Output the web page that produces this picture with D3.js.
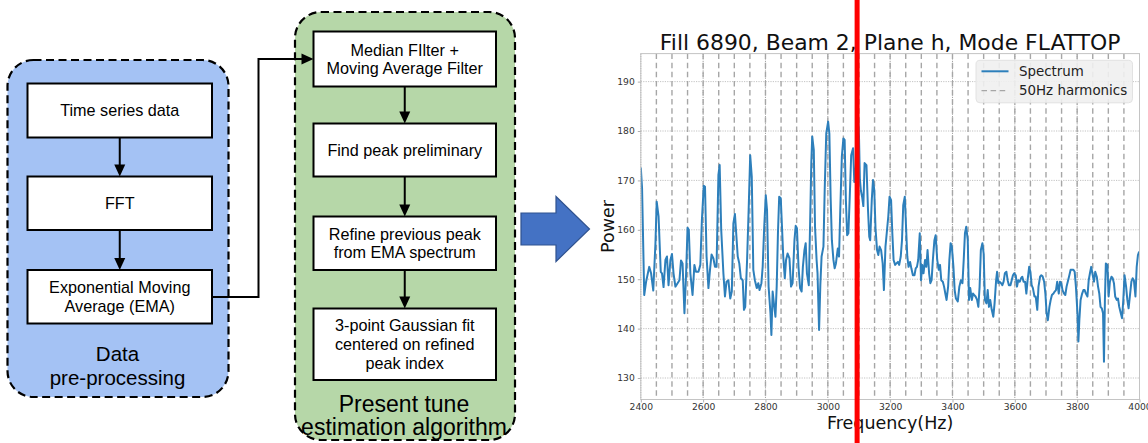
<!DOCTYPE html>
<html>
<head>
<meta charset="utf-8">
<script src="https://cdn.jsdelivr.net/npm/d3@7"></script>
<style>
  body { margin: 0; background: #fff; }
  svg { display: block; }
</style>
</head>
<body>
<svg id="fig" width="1148" height="443"></svg>
<script>
// ---------------- Flowchart content ----------------
const preSteps = [
  ["Time series data"],
  ["FFT"],
  ["Exponential Moving", "Average (EMA)"]
];
const preTitle = ["Data", "pre-processing"];

const tuneSteps = [
  ["Median FIlter +", "Moving Average Filter"],
  ["Find peak preliminary"],
  ["Refine previous peak", "from EMA spectrum"],
  ["3-point Gaussian fit", "centered on refined", "peak index"]
];
const tuneTitle = ["Present tune", "estimation algorithm"];

// ---------------- Spectrum data (Hz, power) ----------------
const freqHz = [
  2400,2404,2411,2417,2427,2433,2440,2447,2451,2457,2464,2468,2473,2479,2484,2489,2495,2500,2505,2511,
  2518,2524,2529,2534,2540,2545,2550,2554,2559,2566,2572,2577,2585,2591,2596,2602,2606,2611,2617,2622,
  2627,2633,2638,2643,2649,2653,2658,2665,2670,2675,2681,2687,2692,2697,2702,
  2711,2716,2721,2727,2731,2735,2741,2746,2751,2756,2761,2766,2772,2777,2781,2787,2791,2796,2801,2805,
  2810,2816,2819,2823,2827,2832,2836,2840,2844,2849,2853,2857,2862,2866,2871,2877,2882,2887,2893,2897,
  2901,2906,2911,2916,2920,2925,2929,2933,2939,2943,2947,2950,2955,2959,2964,2967,2972,2976,2980,2986,
  2990,2995,3001,3005,3009,3013,3018,3022,3026,
  3032,3036,3040,3045,3050,3054,3058,3062,3066,3070,3075,3081,3085,3090,3096,3100,3103,3106,3110,3114,
  3118,3124,3129,3133,3136,3141,3145,3149,3153,3158,3162,3166,3171,3176,3180,3185,3189,3194,3198,3203,
  3207,3211,3216,3220,3225,3229,3234,3238,3242,3247,3251,3255,3259,3264,3268,3273,3278,3282,3286,3290,
  3295,3299,3303,3307,3312,3316,3320,3325,3329,3333,3337,3342,3346,
  3351,3356,3360,3364,3369,3373,3377,3381,3386,3390,3394,3398,3403,3407,3411,3417,3422,3427,3432,3436,
  3440,3444,3449,3453,3457,3462,3466,3470,3474,3479,3483,3487,3491,3496,3500,3504,3509,3513,3517,3521,
  3526,3531,3535,3540,3543,3547,3551,3556,3560,3564,3568,3573,3577,3581,3586,3590,3594,3598,3603,3607,
  3611,3616,3620,3624,3628,3633,3637,3641,3646,3650,3654,3658,3663,3667,
  3672,3676,3681,3685,3689,3694,3698,3702,3706,3711,3715,3719,3724,3728,3732,3736,3741,3745,3749,3753,
  3758,3762,3766,3771,3775,3779,3783,3788,3792,3796,3801,3804,3807,3811,3816,3820,3824,3828,3833,3837,
  3841,3845,3850,3854,3858,3863,3867,3871,3875,3879,3883,3886,3889,3892,3897,3901,3905,3910,3914,3918,
  3922,3927,3931,3935,3940,3944,3948,3952,3957,3961,3965,3970,3974,3978,3982,3987,3991,3995,3999
];
const powerDb = [
  172.6,168.5,146.8,149.5,152.5,151.2,147.7,157.3,165.7,162.7,151.5,151.2,148.4,153.9,154.6,148.8,153.9,155.1,151.2,148.5,
  149.2,149.8,153.8,153.2,143.1,150.5,160.4,160.0,151.2,146.8,152.9,151.5,151.5,152.9,162.0,168.9,168.7,154.6,148.2,151.9,
  155.0,154.2,152.5,152.5,171.1,173.1,160.0,151.2,146.5,149.5,149.8,146.1,147.5,161.3,163.2,
  154.6,153.2,150.2,149.8,143.8,144.4,153.9,164.0,175.1,170.8,151.9,149.8,148.2,149.2,147.8,149.2,152.5,160.6,167.0,164.0,
  148.5,143.1,138.7,147.5,145.1,142.4,148.5,159.3,166.7,166.4,160.6,154.6,150.2,153.9,155.2,154.2,148.5,149.2,157.9,160.8,
  160.3,152.5,148.2,147.5,152.5,155.9,157.3,151.2,148.8,160.6,173.5,178.9,176.2,160.6,153.9,151.2,139.7,148.8,154.6,156.6,
  168.1,179.5,181.9,179.5,166.7,157.9,153.9,152.2,153.2,
  156.2,154.6,164.0,174.8,178.5,178.2,166.0,158.9,159.3,166.0,175.1,176.5,169.7,172.5,184.6,179.0,170.1,168.0,166.7,164.8,
  173.5,173.1,164.0,158.6,157.9,166.0,170.1,168.1,160.3,155.9,154.9,156.6,155.9,153.2,147.8,156.6,159.3,162.7,166.7,166.0,
  159.3,153.9,152.9,153.2,153.5,152.9,154.6,157.9,165.0,166.7,160.6,154.6,152.5,153.5,152.2,150.8,150.8,152.2,152.5,153.9,
  159.3,149.8,152.9,151.2,153.9,152.5,155.9,151.2,149.2,149.8,153.9,157.9,158.9,
  153.9,151.9,152.9,149.8,149.5,148.5,147.1,145.8,148.5,153.9,157.3,156.6,152.5,147.8,146.1,145.5,148.5,149.8,149.2,153.9,
  159.3,160.6,157.9,145.8,148.2,145.8,147.1,146.8,146.5,145.8,144.4,148.5,155.9,157.3,155.2,145.8,145.1,147.8,144.4,145.8,
  143.8,142.4,145.1,149.8,151.5,149.2,149.5,149.2,148.8,149.5,151.2,151.5,149.8,148.8,148.8,149.8,150.8,151.2,150.8,148.5,
  149.8,149.5,150.2,150.5,149.5,149.5,147.1,149.8,152.5,151.5,148.8,148.2,146.5,146.5,
  143.8,148.5,150.5,150.8,150.6,149.5,147.1,143.1,141.7,144.4,145.8,146.8,147.1,147.5,147.8,149.5,147.1,149.5,149.2,147.8,
  147.1,146.8,148.5,149.8,150.8,151.9,151.9,151.9,151.5,148.5,143.1,137.4,141.7,145.8,147.1,147.8,147.8,147.1,146.5,149.8,
  151.2,152.5,150.8,149.5,151.5,150.5,148.5,147.1,144.4,144.1,143.1,133.3,145.8,153.2,152.9,146.5,149.5,150.5,150.2,149.2,
  146.5,145.8,146.1,144.4,143.1,142.1,145.8,150.8,148.5,145.8,144.1,147.1,149.5,150.2,149.8,146.5,152.5,154.9,155.6
];

// 50 Hz mains harmonics inside the band
const harmonicsHz = [
  2450,2500,2550,2600,2650,2700,2750,2800,2850,2900,2950,3000,3050,3100,3150,3200,
  3250,3300,3350,3400,3450,3500,3550,3600,3650,3700,3750,3800,3850,3900,3950
];
const xTicks = [2400,2600,2800,3000,3200,3400,3600,3800,4000];
const yTicks = [130,140,150,160,170,180,190];
const tuneHz = 3094;   // estimated tune line
const chartTitle = "Fill 6890, Beam 2, Plane h, Mode FLATTOP";
const legendLabels = ["Spectrum", "50Hz harmonics"];

const svg = d3.select("#fig");

// ---------------- Flowchart ----------------
const FLOW_FONT = "'Liberation Sans', Arial, Helvetica, sans-serif";
const fc = svg.append("g").attr("font-family", FLOW_FONT);

function panel(x, y, w, h, fill) {
  fc.append("rect")
    .attr("x", x).attr("y", y).attr("width", w).attr("height", h)
    .attr("rx", 26).attr("ry", 26)
    .attr("fill", fill)
    .attr("stroke", "#000").attr("stroke-width", 2.2)
    .attr("stroke-dasharray", "8,4.5");
}

function stepBox(x, y, w, h, lines, size) {
  fc.append("rect")
    .attr("x", x).attr("y", y).attr("width", w).attr("height", h)
    .attr("fill", "#fff").attr("stroke", "#000").attr("stroke-width", 2);
  const lh = size * 1.15;
  const cy = y + h / 2;
  fc.append("text")
    .attr("text-anchor", "middle")
    .attr("font-size", size)
    .attr("fill", "#000")
    .selectAll("tspan").data(lines).join("tspan")
    .attr("x", x + w / 2)
    .attr("y", (d, i) => cy + (i - (lines.length - 1) / 2) * lh + size * 0.36)
    .text(d => d);
}

function arrowDown(x, y0, y1) {
  const head = 12;
  fc.append("line").attr("x1", x).attr("x2", x).attr("y1", y0).attr("y2", y1 - head + 1)
    .attr("stroke", "#000").attr("stroke-width", 2);
  fc.append("path")
    .attr("d", `M${x - 5.5},${y1 - head} L${x + 5.5},${y1 - head} L${x},${y1} Z`)
    .attr("fill", "#000");
}

function panelTitle(cx, cy0, lines, size, gap) {
  fc.append("text")
    .attr("text-anchor", "middle").attr("font-size", size).attr("fill", "#000")
    .selectAll("tspan").data(lines).join("tspan")
    .attr("x", cx)
    .attr("y", (d, i) => cy0 + i * gap + size * 0.36)
    .text(d => d);
}

// left panel: pre-processing
panel(7.5, 60, 221, 337, "#a4c2f4");
const preBoxes = [[83.5, 137.5], [176.5, 230], [270, 323.5]];
const preX = 27.5, preW = 184.5;
preSteps.forEach((lines, i) => {
  const [t, b] = preBoxes[i];
  stepBox(preX, t, preW, b - t, lines, 16.2);
  if (i > 0) arrowDown(preX + preW / 2, preBoxes[i - 1][1], t);
});
panelTitle(117.5, 353.5, preTitle, 20.5, 24.5);

// right panel: tune estimation
panel(295, 12, 220, 428, "#b6d7a8");
const tuneBoxes = [[31.5, 86.5], [123.5, 176.5], [216.5, 270], [308.5, 380]];
const tuneX = 313.5, tuneW = 182.5;
tuneSteps.forEach((lines, i) => {
  const [t, b] = tuneBoxes[i];
  stepBox(tuneX, t, tuneW, b - t, lines, 16.2);
  if (i > 0) arrowDown(tuneX + tuneW / 2, tuneBoxes[i - 1][1], t);
});
panelTitle(404, 403.5, tuneTitle, 23, 23);

// connector EMA -> median filter
{
  const yA = 297, xMid = 258.5, yB = 59, xEnd = tuneX;
  fc.append("path")
    .attr("d", `M${preX + preW},${yA} H${xMid} V${yB} H${xEnd - 11}`)
    .attr("fill", "none").attr("stroke", "#000").attr("stroke-width", 2);
  fc.append("path")
    .attr("d", `M${xEnd - 12},${yB - 5.5} L${xEnd - 12},${yB + 5.5} L${xEnd},${yB} Z`)
    .attr("fill", "#000");
}

// big block arrow
svg.append("path")
  .attr("d", "M521,213 H556 V196.5 L589.5,229 L556,261.5 V245 H521 Z")
  .attr("fill", "#4472c4").attr("stroke", "#2f528f").attr("stroke-width", 1.2);

// ---------------- Spectrum chart ----------------
const CHART_FONT = "'DejaVu Sans', Verdana, sans-serif";
const plot = { left: 640.8, right: 1139.5, top: 53.6, bottom: 399.5 };
const x = d3.scaleLinear().domain([2400, 4000]).range([plot.left, plot.right]);
const y = d3.scaleLinear().domain([125.65, 195.67]).range([plot.bottom, plot.top]);

const ch = svg.append("g").attr("font-family", CHART_FONT);

svg.append("defs").append("clipPath").attr("id", "plotClip")
  .append("rect")
  .attr("x", plot.left).attr("y", plot.top)
  .attr("width", plot.right - plot.left).attr("height", plot.bottom - plot.top);

// grid
ch.append("g").selectAll("line").data(yTicks).join("line")
  .attr("x1", plot.left).attr("x2", plot.right)
  .attr("y1", d => y(d)).attr("y2", d => y(d))
  .attr("stroke", "#b4b4b4").attr("stroke-width", 0.8).attr("stroke-dasharray", "1.2,1.2");
ch.append("g").selectAll("line").data(xTicks).join("line")
  .attr("x1", d => x(d)).attr("x2", d => x(d))
  .attr("y1", plot.top).attr("y2", plot.bottom)
  .attr("stroke", "#9a9a9a").attr("stroke-width", 0.9).attr("stroke-dasharray", "1.2,1.2");

// harmonics
ch.append("g").selectAll("line").data(harmonicsHz).join("line")
  .attr("x1", d => x(d)).attr("x2", d => x(d))
  .attr("y1", plot.top).attr("y2", plot.bottom)
  .attr("stroke", "#a6a6a6").attr("stroke-width", 1.4).attr("stroke-dasharray", "5.5,3.6");

// spectrum line
const series = freqHz.map((f, i) => [f, powerDb[i]]);
ch.append("path")
  .datum(series)
  .attr("clip-path", "url(#plotClip)")
  .attr("fill", "none")
  .attr("stroke", "#2d7fbb").attr("stroke-width", 2)
  .attr("stroke-linejoin", "round")
  .attr("d", d3.line().x(d => x(d[0])).y(d => y(d[1])));

// frame
ch.append("rect")
  .attr("x", plot.left).attr("y", plot.top)
  .attr("width", plot.right - plot.left).attr("height", plot.bottom - plot.top)
  .attr("fill", "none").attr("stroke", "#c4c4c4").attr("stroke-width", 1);

// axes
const xAxis = ch.append("g").attr("transform", `translate(0,${plot.bottom})`)
  .call(d3.axisBottom(x).tickValues(xTicks).tickSize(3).tickPadding(1).tickFormat(d3.format("d")));
const yAxis = ch.append("g").attr("transform", `translate(${plot.left},0)`)
  .call(d3.axisLeft(y).tickValues(yTicks).tickSize(3).tickPadding(3).tickFormat(d3.format("d")));
[xAxis, yAxis].forEach(a => {
  a.select(".domain").remove();
  a.selectAll(".tick line").attr("stroke", "#b0b0b0");
  a.selectAll(".tick text").attr("fill", "#333").attr("font-size", 9.2).attr("font-family", CHART_FONT);
});

// title and axis labels
ch.append("text").attr("x", (plot.left + plot.right) / 2).attr("y", 49.5)
  .attr("text-anchor", "middle").attr("font-size", 21.9).attr("fill", "#111")
  .text(chartTitle);
ch.append("text").attr("x", (plot.left + plot.right) / 2).attr("y", 428.5)
  .attr("text-anchor", "middle").attr("font-size", 17.5).attr("fill", "#111")
  .text("Frequency(Hz)");
ch.append("text").attr("transform", `translate(613.5,${(plot.top + plot.bottom) / 2}) rotate(-90)`)
  .attr("text-anchor", "middle").attr("font-size", 17.5).attr("fill", "#111")
  .text("Power");

// legend
const lg = ch.append("g");
lg.append("rect").attr("x", 976).attr("y", 60.3).attr("width", 156.5).attr("height", 42.5)
  .attr("rx", 4).attr("fill", "#efefef").attr("fill-opacity", 0.9).attr("stroke", "#e2e2e2");
const legendRows = [
  { y: 71.3, stroke: "#2d7fbb", dash: null, width: 2 },
  { y: 90.6, stroke: "#a6a6a6", dash: "5.5,3.6", width: 1.4 }
];
legendRows.forEach((r, i) => {
  lg.append("line").attr("x1", 981.5).attr("x2", 1008.5).attr("y1", r.y).attr("y2", r.y)
    .attr("stroke", r.stroke).attr("stroke-width", r.width)
    .attr("stroke-dasharray", r.dash);
  lg.append("text").attr("x", 1019).attr("y", r.y + 4.6)
    .attr("font-size", 13.4).attr("fill", "#222").text(legendLabels[i]);
});

// tune marker over everything
svg.append("line")
  .attr("x1", x(tuneHz)).attr("x2", x(tuneHz))
  .attr("y1", 0).attr("y2", 443)
  .attr("stroke", "#ff0000").attr("stroke-width", 5);
</script>
</body>
</html>
